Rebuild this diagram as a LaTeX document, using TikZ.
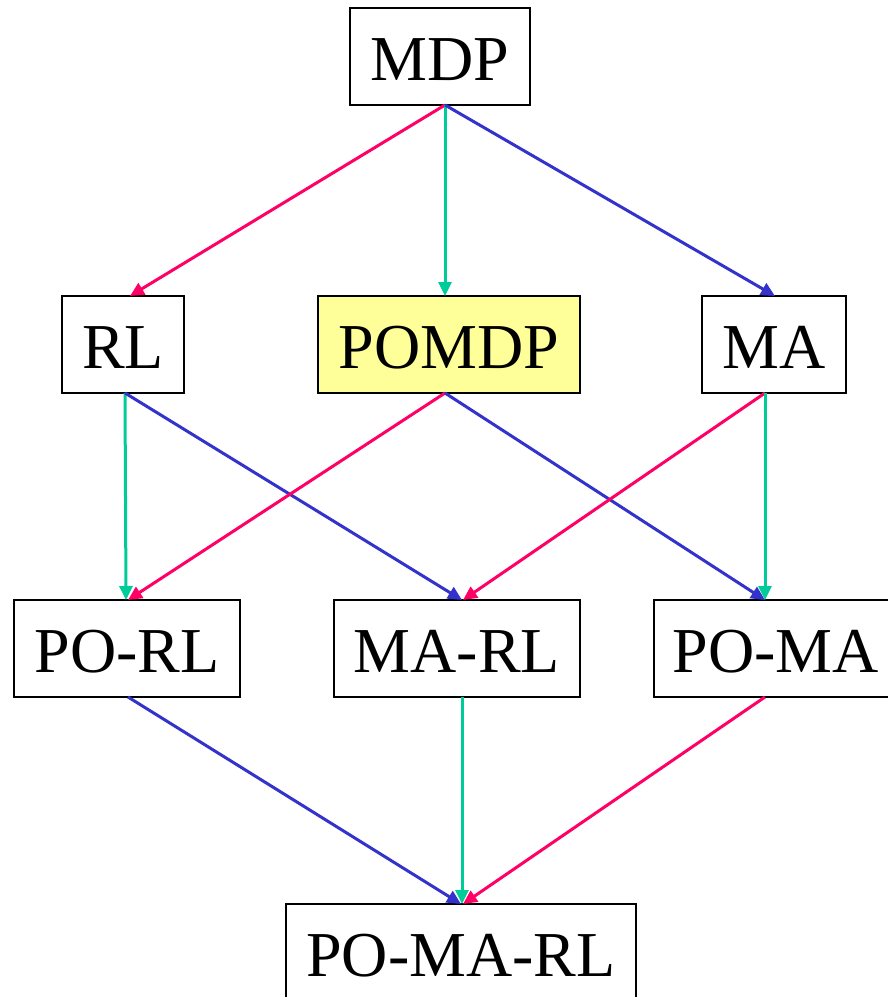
\documentclass[tikz,border=0pt]{standalone}
\usepackage{fontspec}
\setmainfont{Liberation Serif}
\usetikzlibrary{arrows.meta}
\definecolor{linkpink}{HTML}{FF0066}
\definecolor{linkgreen}{HTML}{00CC99}
\definecolor{linkblue}{HTML}{3333CC}
\definecolor{hilite}{HTML}{FFFF99}
\begin{document}
\begin{tikzpicture}[x=1pt,y=-1pt,
  box/.style={draw=black, line width=2.4pt, fill=white, rectangle,
    minimum height=97pt, inner sep=0pt, outer sep=0pt,
    font=\fontsize{64}{70}\selectfont, text height=48.4pt, text depth=0pt},
  link/.style={line width=3pt, -{Triangle[length=14pt,width=13pt]}},
  pinkln/.style={link, draw=linkpink, fill=linkpink},
  greenln/.style={link, draw=linkgreen, fill=linkgreen},
  blueln/.style={link, draw=linkblue, fill=linkblue}]
\clip (0,0) rectangle (888,997);
\fill[white] (0,0) rectangle (888,997);

% lattice levels
\node[box, minimum width=180pt] (MDP) at (440,56.5) {MDP};
\node[box, minimum width=122pt] (RL) at (123,344.5) {RL};
\node[box, minimum width=262pt, fill=hilite] (POMDP) at (449,344.5) {POMDP};
\node[box, minimum width=144pt] (MA) at (774,344.5) {MA};
\node[box, minimum width=226pt] (PORL) at (127,648.5) {PO-RL};
\node[box, minimum width=246pt] (MARL) at (457,648.5) {MA-RL};
\node[box, minimum width=244pt] (POMA) at (776,648.5) {PO-MA};
\node[box, minimum width=350pt] (POMARL) at (461,952.5) {PO-MA-RL};

% from MDP
\draw[pinkln]  ([xshift=5pt]MDP.south) -- ([xshift=7pt]RL.north);
\draw[greenln] ([xshift=5pt]MDP.south) -- ([xshift=-4pt]POMDP.north);
\draw[blueln]  ([xshift=5pt]MDP.south) -- ([xshift=1pt]MA.north);

% second level to third level
\draw[greenln] ([xshift=2pt]RL.south) -- ([xshift=-1pt]PORL.north);
\draw[blueln]  ([xshift=2pt]RL.south) -- ([xshift=5pt]MARL.north);
\draw[pinkln]  ([xshift=-4pt]POMDP.south) -- ([xshift=1pt]PORL.north);
\draw[blueln]  ([xshift=-4pt]POMDP.south) -- ([xshift=-11pt]POMA.north);
\draw[pinkln]  ([xshift=-9pt]MA.south) -- ([xshift=6pt]MARL.north);
\draw[greenln] ([xshift=-9pt]MA.south) -- ([xshift=-11pt]POMA.north);

% third level to PO-MA-RL
\draw[blueln]  ([xshift=1pt]PORL.south) -- ([xshift=0pt]POMARL.north);
\draw[greenln] ([xshift=5pt]MARL.south) -- ([xshift=1pt]POMARL.north);
\draw[pinkln]  ([xshift=-11pt]POMA.south) -- ([xshift=2pt]POMARL.north);
\end{tikzpicture}
\end{document}
